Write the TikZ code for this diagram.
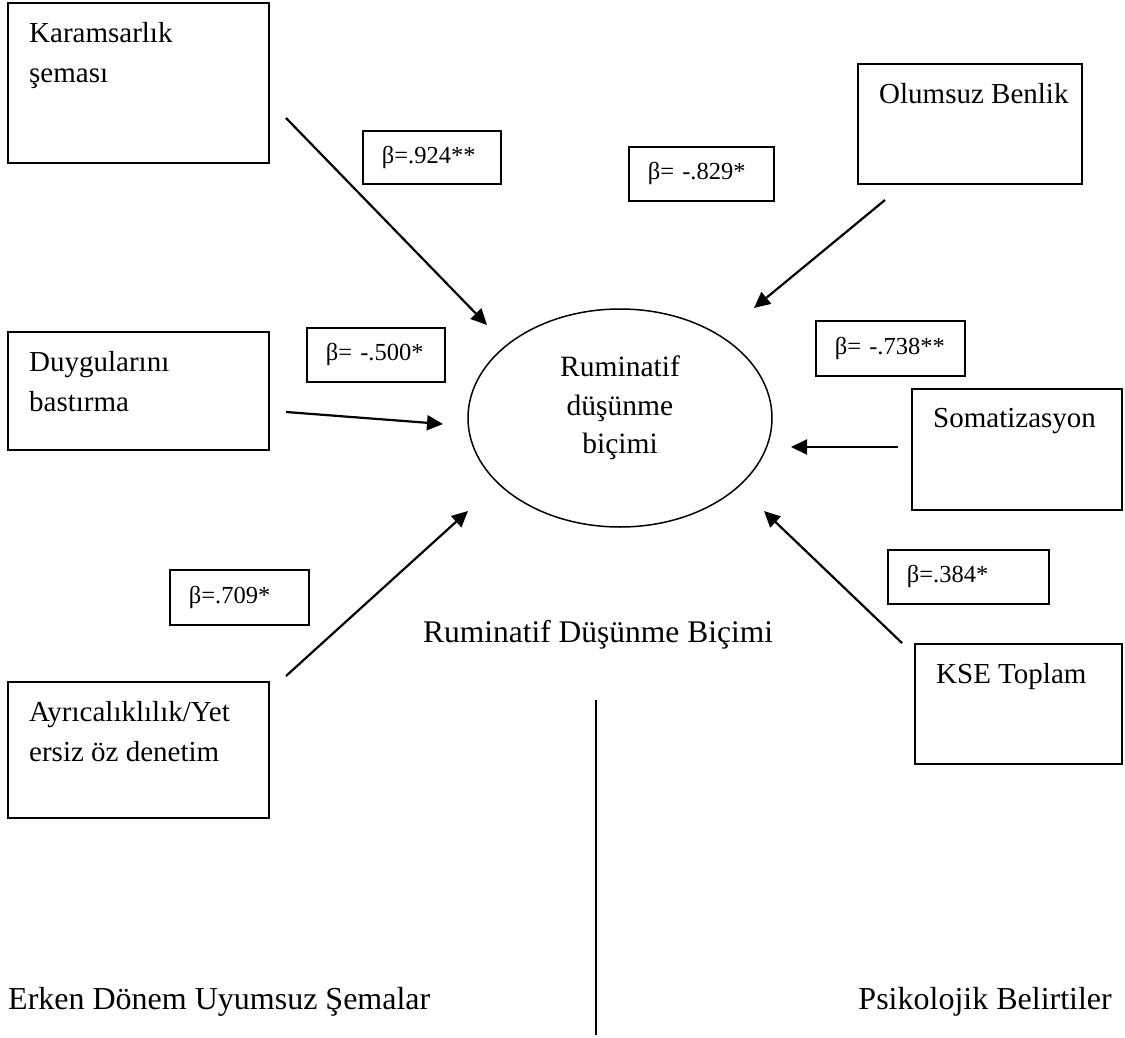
\documentclass[tikz,border=0pt]{standalone}
\usepackage{fontspec}
\setmainfont{Liberation Serif}
\usetikzlibrary{positioning,shapes.geometric,arrows.meta}

\begin{document}
\begin{tikzpicture}[x=1pt,y=-1pt,
  box/.style={draw, line width=2pt, anchor=north west, inner sep=0pt, outer sep=0pt},
  txt/.style={font=\fontsize{29}{40}\selectfont, align=left, inner sep=0pt, below right=19pt and 21pt of #1},
  beta/.style={draw, line width=1.7pt, anchor=north west, align=left, inner xsep=19pt,
    font=\fontsize{24.5}{28}\selectfont},
  arr/.style={line width=2.2pt, -{Triangle[length=16pt,width=15pt]}}]
\useasboundingbox (0,0) rectangle (1125,1038);

\node[box, minimum width=261pt, minimum height=160pt] (kar) at (8,3) {};
\node[box, minimum width=261pt, minimum height=118pt] (duy) at (8,332) {};
\node[box, minimum width=261pt, minimum height=136pt] (ayr) at (8,682) {};
\node[box, minimum width=224pt, minimum height=120pt] (olu) at (858,64) {};
\node[box, minimum width=210pt, minimum height=121pt] (som) at (912,389) {};
\node[box, minimum width=207pt, minimum height=120pt] (kse) at (915,644) {};

\node[txt=kar.north west] (karT) {Karamsarlık\\şeması};
\node[txt=duy.north west] (duyT) {Duygularını\\bastırma};
\node[txt=ayr.north west] (ayrT) {Ayrıcalıklılık/Yet\\ersiz öz denetim};
\node[txt=olu.north west] (oluT) {Olumsuz Benlik};
\node[txt=som.north west] (somT) {Somatizasyon};
\node[txt=kse.north west] (kseT) {KSE Toplam};

\node[beta, text width=100pt, minimum height=53pt] (b924) at (362,130) {β=.924**};
\node[beta, text width=107pt, minimum height=54pt] (b829) at (628,146) {β= -.829*};
\node[beta, text width=100pt, minimum height=54pt] (b500) at (306,327) {β= -.500*};
\node[beta, text width=111pt, minimum height=55pt] (b738) at (815,320) {β= -.738**};
\node[beta, text width=101pt, minimum height=55pt] (b709) at (169,569) {β=.709*};
\node[beta, text width=123pt, minimum height=54pt] (b384) at (887,549) {β=.384*};

\node[draw, ellipse, line width=1.5pt, minimum width=304pt, minimum height=218pt] (rum) at (620,418) {};
\node[align=center, font=\fontsize{29.5}{38.5}\selectfont] (rumT) at ([yshift=10pt]rum.center)
  {Ruminatif\\düşünme\\biçimi};

\coordinate (karS) at (286,118);
\coordinate (karE) at (487,325);
\coordinate (oluS) at (885,200);
\coordinate (oluE) at (754,308);
\coordinate (duyS) at (286,412);
\coordinate (duyE) at (443,424);
\coordinate (somS) at (898,447);
\coordinate (somE) at (791,447);
\coordinate (ayrS) at (286,676);
\coordinate (ayrE) at (468,511);
\coordinate (kseS) at (902,643);
\coordinate (kseE) at (764,511);

\draw[arr] (karS) -- (karE);
\draw[arr] (oluS) -- (oluE);
\draw[arr] (duyS) -- (duyE);
\draw[arr] (somS) -- (somE);
\draw[arr] (ayrS) -- (ayrE);
\draw[arr] (kseS) -- (kseE);

\node[anchor=base, inner sep=0pt, font=\fontsize{31.5}{36}\selectfont] (baslik) at (598,642)
  {Ruminatif Düşünme Biçimi};

\coordinate (ayirT) at (596,700);
\coordinate (ayirB) at (596,1035);
\draw[line width=1.6pt] (ayirT) -- (ayirB);

\node[anchor=base west, inner sep=0pt, font=\fontsize{32}{36}\selectfont] (erken) at (8,1009)
  {Erken Dönem Uyumsuz Şemalar};
\node[anchor=base east, inner sep=0pt, font=\fontsize{32}{36}\selectfont] (psik) at (1112,1009)
  {Psikolojik Belirtiler};

\end{tikzpicture}
\end{document}
